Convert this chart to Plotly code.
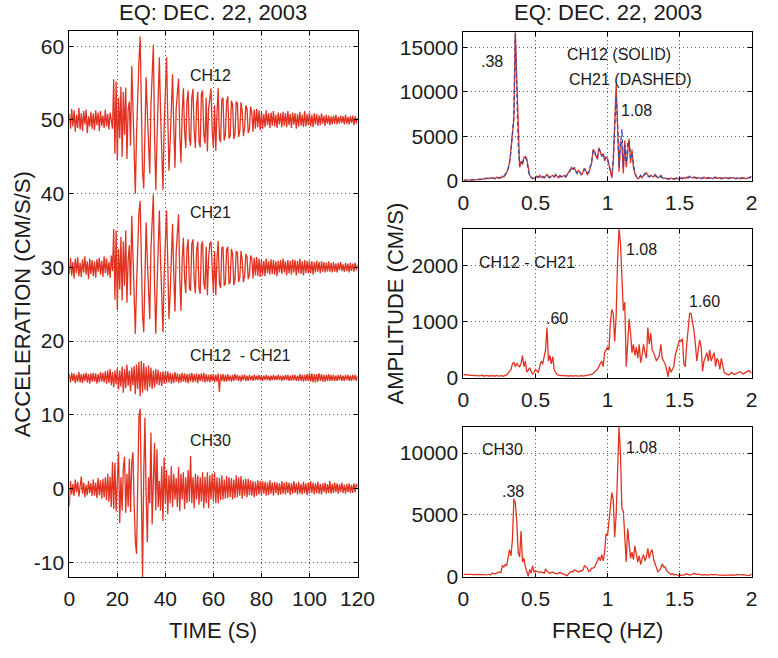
import numpy as np
import plotly.graph_objects as go

# ---------------- time series (deviation from offset, CM/S/S), dt = 0.5 s ----------------
DT = 0.5
ch12 = [0.8,-1.2,1.5,-0.9,1.3,-1.6,0.7,-1.1,1.6,-1.3,0.9,-1.5,1.2,-0.6,1.4,-1.8,0.5,-0.9,1.1,-1.2,
        0.9,-1.4,1.3,-0.7,1.0,-1.5,1.2,-0.8,0.6,-1.1,1.4,-0.9,0.8,-1.3,1.0,-0.6,-1.2,5.5,-4.6,5.2,
        -5.5,3.0,-2.5,4.5,-5.0,3.8,-2.0,4.4,-5.3,1.5,2.5,-3.5,7.3,2.0,-6.5,-10.0,-2.0,5.0,8.0,11.3,
        1.0,-7.0,-9.3,-1.0,5.8,1.0,-5.0,-7.3,2.0,6.5,10.2,-2.0,-9.5,-3.0,4.0,8.5,1.0,-5.0,-9.5,-1.0,
        5.0,8.5,0.5,-6.9,-3.0,2.0,6.2,-1.0,-6.5,1.5,3.5,5.6,-2.0,-5.8,1.0,4.3,-1.5,-3.8,2.5,4.0,
        -2.5,-3.5,3.0,4.2,-1.5,-3.8,2.0,3.8,-3.0,-3.7,3.5,4.0,-2.0,-3.2,3.0,-4.3,1.5,3.5,4.3,-1.5,
        -3.8,2.0,-4.2,1.0,4.3,-2.5,-3.0,2.8,3.0,-2.8,-2.0,2.5,3.2,-2.5,-2.2,2.6,2.0,-2.6,-1.8,2.5,
        2.2,-2.3,-1.5,2.4,1.2,-2.2,-1.0,2.0,1.5,-1.8,-1.2,1.8,1.0,-1.6,1.4,-1.2,1.5,-1.0,1.3,-1.4,
        1.1,-1.2,0.8,-1.0,1.3,-0.7,0.9,-1.1,1.0,-0.8,1.2,-0.9,0.7,-1.1,1.0,-0.6,0.9,-1.0,1.1,-0.8,
        0.9,-1.0,1.2,-0.7,0.8,-1.1,1.0,-0.6,0.9,-1.2,0.8,-0.9,1.1,-0.8,0.7,-1.0,1.2,-0.9,0.8,-0.7,
        1.0,-0.9,0.7,-1.0,0.9,-0.6,0.8,-0.8,0.6,-0.7,0.9,-0.5,0.6,-0.8,0.7,-0.5,0.6,-0.7,0.5,-0.6,
        0.6,-0.5,0.7,-0.6,0.4,-0.5,0.6,-0.4,0.5,-0.6,0.7,-0.5,0.4,-0.6,0.5,-0.4,0.6,-0.7,0.5,-0.5,0.3]

ch21 = [-0.9,1.3,-1.1,0.7,-1.5,1.2,-0.8,1.4,-1.2,0.6,-1.3,1.1,-0.7,1.5,-1.0,0.8,-1.6,1.2,-0.9,1.0,
        -1.2,0.8,-1.4,1.1,-0.6,1.3,-1.0,0.9,-1.3,1.5,-0.8,1.2,-1.1,0.7,-1.4,1.6,-0.5,5.2,-4.4,5.0,
        -5.8,2.5,-3.0,4.1,-4.5,3.5,-2.5,5.0,-4.8,1.0,3.0,-3.8,7.0,1.5,-6.0,-9.0,-2.5,4.5,7.5,9.0,
        0.5,-6.5,-8.8,-1.5,6.1,1.0,-4.5,-7.0,2.5,7.0,9.9,-2.5,-9.0,-3.0,3.5,7.7,1.0,-5.0,-8.8,-1.0,
        5.0,7.7,0.5,-7.0,-3.5,2.0,5.9,-1.0,-6.0,2.0,4.0,7.2,-1.5,-5.9,1.0,4.0,-1.5,-3.5,2.5,3.8,
        -2.8,-3.2,3.2,3.8,-1.8,-3.5,2.2,3.5,-2.8,-3.6,3.0,3.5,-2.2,-3.0,2.8,-3.8,1.2,3.2,3.5,-1.2,
        -3.5,2.2,-3.8,1.2,3.6,-2.2,-2.8,2.6,2.8,-2.5,-2.2,2.4,2.8,-2.3,-2.0,2.5,1.8,-2.4,-1.6,2.2,
        2.0,-2.0,-1.4,2.2,1.0,-2.0,-1.2,1.8,1.4,-1.6,-1.0,1.6,1.2,-1.5,1.3,-1.1,1.4,-1.2,1.2,-1.3,
        1.0,-1.1,0.9,-1.2,1.2,-0.8,0.8,-1.0,1.1,-0.9,1.0,-1.0,0.8,-1.2,0.9,-0.7,1.0,-0.9,1.2,-0.7,
        0.8,-1.1,1.0,-0.8,0.9,-1.0,1.1,-0.7,1.0,-1.1,0.9,-0.8,1.2,-0.9,0.8,-1.1,1.0,-0.8,0.9,-0.8,
        0.9,-0.8,0.8,-1.0,0.7,-0.7,0.9,-0.6,0.7,-0.8,0.8,-0.6,0.7,-0.7,0.6,-0.6,0.8,-0.6,0.6,-0.7,
        0.7,-0.6,0.5,-0.7,0.6,-0.4,0.7,-0.5,0.4,-0.6,0.6,-0.5,0.5,-0.7,0.6,-0.5,0.5,-0.6,0.6,-0.4,0.4]

diff = [0.5,-0.6,0.7,-0.4,0.6,-0.7,0.4,-0.5,0.8,-0.6,0.5,-0.7,0.6,-0.4,0.7,-0.6,0.5,-0.8,0.6,-0.5,
        0.7,-0.5,0.6,-0.8,0.5,-0.6,0.8,-0.5,0.7,-0.6,0.9,-0.8,1.0,-0.7,1.2,-1.0,0.8,-1.3,1.0,-0.9,
        1.3,-1.6,1.0,-1.2,1.5,-2.0,1.2,-1.4,1.8,-1.1,1.0,-1.8,1.4,-1.0,1.6,-2.2,1.8,-1.5,2.2,-2.5,
        2.3,-2.0,2.0,-1.6,1.5,-1.8,1.7,-1.2,1.4,-1.5,1.0,-1.3,1.2,-0.9,1.1,-1.0,0.8,-1.1,0.9,-0.8,
        0.8,-0.7,0.9,-0.6,0.7,-0.8,0.6,-0.7,0.8,-0.5,0.6,-0.7,0.5,-0.6,0.7,-0.5,0.6,-0.6,0.5,-0.7,
        0.6,-0.5,0.7,-0.6,0.5,-0.5,0.6,-0.7,0.5,-0.4,0.6,-0.5,0.7,-0.6,0.5,-0.5,0.4,-0.6,0.5,-0.4,
        0.5,-0.6,0.4,-0.5,0.6,-1.9,0.5,-0.4,0.5,-0.5,0.4,-0.5,0.5,-0.4,0.3,-0.5,0.4,-0.4,0.5,-0.3,
        0.4,-0.4,0.3,-0.5,0.4,-0.3,0.4,-0.4,0.3,-0.4,0.4,-0.3,0.3,-0.4,0.4,-0.3,0.3,-0.3,0.4,-0.3,
        0.3,-0.4,0.3,-0.3,0.4,-0.3,0.3,-0.4,0.3,-0.3,0.4,-0.3,0.3,-0.3,0.4,-0.3,0.3,-0.4,0.3,-0.3,
        0.4,-0.3,0.4,-0.4,0.3,-0.4,0.4,-0.3,0.4,-0.4,0.3,-0.4,0.5,-0.4,0.4,-0.5,0.4,-0.4,0.5,-0.4,
        0.6,-0.5,0.6,-0.6,0.5,-0.6,0.5,-0.5,0.6,-0.4,0.5,-0.5,0.4,-0.5,0.4,-0.4,0.5,-0.4,0.4,-0.4,
        0.4,-0.4,0.3,-0.4,0.4,-0.3,0.4,-0.4,0.3,-0.4,0.4,-0.3,0.4,-0.4,0.3,-0.4,0.4,-0.3,0.4,-0.4,0.3]

ch30 = [-2.4,1.0,-0.8,0.6,-1.0,1.2,-0.5,0.9,-1.1,0.4,1.6,-0.7,0.8,-1.2,0.5,-0.9,1.0,-0.6,0.7,-1.0,
        1.2,-1.0,0.8,-1.3,1.4,-0.9,1.1,-1.4,1.3,-1.2,1.5,-1.6,2.0,-1.8,1.6,-2.5,3.6,-2.8,3.5,-3.1,
        2.5,4.9,-4.7,1.5,-3.0,2.8,4.3,-3.3,2.0,-2.5,4.0,-3.2,3.5,4.9,-2.0,-7.1,-8.9,3.0,9.8,10.8,
        -3.0,-12.0,2.0,9.6,-1.0,-7.3,1.5,-2.0,7.6,-4.9,1.0,6.2,-3.0,5.3,-2.5,1.0,-3.0,3.0,-4.4,4.2,
        -2.0,2.5,-3.5,1.8,-2.0,3.0,-2.5,2.0,-1.5,1.4,-2.5,2.9,-3.1,2.0,-1.5,2.2,-2.8,1.5,-2.0,2.5,
        -1.8,4.4,-2.0,1.5,-2.7,2.0,-1.5,1.8,-2.2,1.5,-1.8,2.2,-2.7,1.6,-2.0,2.2,-2.7,1.8,-1.5,2.0,
        -1.8,2.2,-2.0,1.5,-2.0,1.4,-1.6,1.8,-1.5,1.2,-1.4,1.7,-1.3,1.5,-1.2,1.4,-1.5,1.2,-1.3,1.8,
        -1.2,1.5,-1.0,1.7,-1.4,1.2,-1.0,1.3,-1.2,1.3,-0.9,1.1,-1.0,1.0,-1.2,0.9,-1.0,1.1,-0.8,1.0,
        -0.9,1.0,-0.7,0.9,-1.0,0.8,-0.9,1.1,-0.7,0.8,-1.0,0.9,-0.6,0.8,-0.9,0.7,-0.8,1.0,-0.7,0.8,
        -0.8,0.9,-0.6,0.8,-0.9,0.7,-0.7,1.0,-0.6,0.7,-0.8,0.9,-0.7,0.6,-0.8,0.9,-0.6,0.7,-0.9,0.8,
        -0.7,1.0,-0.6,0.8,-0.8,0.7,-0.6,0.9,-0.7,0.6,-0.8,0.7,-0.5,0.8,-0.7,0.6,-0.6,1.0,-0.7,0.6,
        -0.6,0.8,-0.5,0.7,-0.7,0.6,-0.5,0.8,-0.6,0.5,-0.7,0.6,-0.5,0.7,-0.6,0.5,-0.6,0.7,-0.5,0.6,0.2]

offsets = [50, 30, 15, 0]
series_labels = ["CH12", "CH21", "CH12\u00a0 - CH21", "CH30"]

# ---------------- Fourier amplitude spectra (CM/S), df = 0.01 Hz ----------------
DF = 0.01
spec_ch12 = [20,20,30,20,30,40,30,50,60,80,
             100,150,120,200,180,250,200,300,220,350,
             250,300,200,400,280,350,300,500,400,700,
             900,1300,2000,3500,5500,7000,16700,11000,4500,1500,
             2200,1800,2600,2700,2400,1200,600,400,200,250,
             300,500,400,600,350,450,300,500,700,400,
             300,500,600,400,700,500,300,600,400,500,
             600,400,700,900,1200,1500,1300,1400,1100,900,
             1200,800,600,1000,1400,1100,700,900,1500,2000,
             3500,3300,2800,2400,3700,3200,2800,3000,2200,2600,
             2500,1800,1200,300,2000,6000,10800,6000,1000,4500,
             4000,800,4500,1500,3500,4700,2000,3500,1500,800,
             500,200,300,500,300,600,700,900,600,400,
             600,500,400,700,500,300,400,600,300,250,
             300,200,250,150,300,200,150,250,300,200,
             250,300,200,350,250,400,300,500,350,300,
             400,300,250,350,300,200,300,400,250,300,
             350,250,300,200,300,400,250,300,350,200,
             300,250,350,300,200,300,250,350,300,200,
             250,300,200,350,250,300,200,300,350,400,
             500]

spec_ch21 = [20,30,20,30,40,30,40,50,70,90,
             120,130,150,180,220,200,260,250,300,300,
             280,250,250,350,300,320,350,450,450,650,
             950,1350,2100,3300,5300,7200,16500,10500,4200,1600,
             2000,2000,2500,2600,2300,1100,500,350,250,300,
             400,450,350,550,400,500,350,450,600,500,
             350,450,550,450,600,450,350,550,450,550,
             550,450,650,850,1100,1400,1200,1500,1000,800,
             1100,900,700,900,1300,1000,800,1000,1600,2100,
             3300,3400,2600,2500,3500,3300,2700,3100,2300,2700,
             2400,1700,1300,500,2500,5500,9500,6500,1500,4000,
             5800,1500,4000,2000,4200,4500,2500,3000,1800,900,
             400,300,400,600,350,500,800,700,500,450,
             550,450,500,600,450,350,350,500,350,300,
             250,250,200,200,250,250,200,200,250,250,
             300,250,250,300,300,350,350,450,400,350,
             350,350,300,300,350,250,250,350,300,250,
             300,300,250,250,350,350,300,250,300,250,
             250,300,300,250,250,350,300,300,250,250,
             300,250,250,300,300,250,250,250,300,350,
             400]

spec_diff = [60,55,50,55,50,45,50,40,45,40,
             45,35,40,50,30,40,35,45,30,40,
             35,40,30,45,35,30,40,35,30,50,
             50,80,120,150,250,280,200,260,220,200,
             250,400,200,300,100,150,180,120,60,100,
             150,120,100,200,300,250,400,500,900,300,
             400,250,380,150,100,60,50,40,45,40,
             40,35,40,30,40,35,30,40,35,30,
             30,35,40,30,35,40,45,40,50,60,
             80,100,120,150,200,250,300,200,450,500,
             550,500,1000,1220,1150,650,1100,2100,2660,2400,
             1600,1200,1350,200,600,1050,800,450,600,400,
             550,350,600,270,400,600,450,350,900,600,
             800,500,450,350,300,350,400,600,350,300,
             250,150,20,200,100,150,200,400,500,600,
             680,650,700,250,200,600,900,1150,1150,1000,
             850,600,300,500,680,550,120,300,400,450,
             300,500,300,400,450,200,350,300,150,350,
             200,100,80,60,50,70,100,80,60,70,
             80,100,110,90,70,80,100,120,130,110,
             80]

spec_ch30 = [200,210,200,190,210,200,190,200,210,200,
             190,200,180,200,190,170,200,180,190,170,
             300,280,250,300,350,400,350,900,800,1000,
             900,1500,2200,1700,3000,6300,6000,4500,2000,1600,
             3700,1200,1500,800,400,50,600,300,900,400,
             500,450,400,350,400,350,300,600,450,350,
             300,350,400,300,250,250,300,350,300,250,
             200,150,100,250,350,450,400,550,500,450,
             400,500,450,550,900,800,700,450,500,700,
             700,800,1000,1300,1600,1300,1800,1300,2000,3500,
             3300,4500,6200,6800,6200,3200,5000,9000,12100,10000,
             5500,5300,3000,1200,3900,2500,1500,2000,1400,2500,
             1800,1200,1700,1000,1500,1800,1300,1600,2300,1500,
             2000,2200,1400,1000,600,400,500,700,1050,800,
             800,500,400,300,200,250,150,200,150,100,
             100,150,120,150,200,250,200,150,180,200,
             300,250,200,220,180,200,150,180,200,170,
             150,180,200,160,190,200,170,150,180,160,
             100,130,150,170,140,150,160,180,150,140,
             200,180,160,170,190,150,140,120,100,130,
             250]

time_ticks = [0, 20, 40, 60, 80, 100, 120]
acc_ticks = [-10, 0, 10, 20, 30, 40, 50, 60]
acc_ticktext = ["-10", "0", "10", "20", "30", "40", "50", "60"]
freq_ticks = [0, 0.5, 1, 1.5, 2]
freq_ticktext = ["0", "0.5", "1", "1.5", "2"]
amp_ticks_top = [0, 5000, 10000, 15000]
amp_ticks_mid = [0, 1000, 2000]
amp_ticks_bot = [0, 5000, 10000]

# ---------------- figure ----------------
W, H = 778, 658
RED = "rgb(226,50,34)"
BLUE = "rgb(58,72,170)"
FONT = "Liberation Sans, Arial, Helvetica, sans-serif"
TXT = "#1a1a1a"

def px_x(p):
    return p / W

def px_y(p):
    return 1 - p / H

t = np.arange(len(ch12)) * DT
f = np.arange(len(spec_ch12)) * DF

fig = go.Figure()
for vals, off in zip([ch12, ch21, diff, ch30], offsets):
    fig.add_trace(go.Scatter(x=t, y=np.array(vals) + off, mode="lines",
                             line=dict(color=RED, width=1.3), xaxis="x", yaxis="y",
                             showlegend=False, hoverinfo="skip"))

fig.add_trace(go.Scatter(x=f, y=spec_ch12, mode="lines", line=dict(color=RED, width=1.3),
                         xaxis="x2", yaxis="y2", showlegend=False))
fig.add_trace(go.Scatter(x=f, y=spec_ch21, mode="lines",
                         line=dict(color=BLUE, width=1.3, dash="4px,3px"),
                         xaxis="x2", yaxis="y2", showlegend=False))
fig.add_trace(go.Scatter(x=f, y=spec_diff, mode="lines", line=dict(color=RED, width=1.3),
                         xaxis="x3", yaxis="y3", showlegend=False))
fig.add_trace(go.Scatter(x=f, y=spec_ch30, mode="lines", line=dict(color=RED, width=1.3),
                         xaxis="x4", yaxis="y4", showlegend=False))

axis_common = dict(showline=True, linecolor="black", linewidth=1, mirror="allticks",
                   ticks="inside", ticklen=4, tickcolor="black", showgrid=True,
                   gridcolor="#555", gridwidth=1, griddash="1px,3px", zeroline=False,
                   tickfont=dict(family=FONT, size=21, color=TXT))
x_common = dict(ticklabelstandoff=3, **axis_common)

LX = [px_x(65.3), px_x(362.7)]
RX = [px_x(472), px_x(769.3)]
fig.update_layout(
    width=W, height=H, margin=dict(l=0, r=0, t=0, b=0),
    paper_bgcolor="white", plot_bgcolor="white", showlegend=False,
    xaxis=dict(domain=LX, range=[0, 120], tickvals=time_ticks, anchor="y", **x_common),
    yaxis=dict(domain=[px_y(586.7), px_y(32)], range=[-12, 62], tickvals=acc_ticks,
               ticktext=acc_ticktext, anchor="x", **axis_common),
    xaxis2=dict(domain=RX, range=[0, 2], tickvals=freq_ticks, ticktext=freq_ticktext,
                anchor="y2", **x_common),
    yaxis2=dict(domain=[px_y(183.7), px_y(32.3)], range=[0, 16750], tickvals=amp_ticks_top,
                ticktext=[str(v) for v in amp_ticks_top], anchor="x2", **axis_common),
    xaxis3=dict(domain=RX, range=[0, 2], tickvals=freq_ticks, ticktext=freq_ticktext,
                anchor="y3", **x_common),
    yaxis3=dict(domain=[px_y(384.3), px_y(232.7)], range=[0, 2660], tickvals=amp_ticks_mid,
                ticktext=[str(v) for v in amp_ticks_mid], anchor="x3", **axis_common),
    xaxis4=dict(domain=RX, range=[0, 2], tickvals=freq_ticks, ticktext=freq_ticktext,
                anchor="y4", **x_common),
    yaxis4=dict(domain=[px_y(586.7), px_y(434.3)], range=[0, 12100], tickvals=amp_ticks_bot,
                ticktext=[str(v) for v in amp_ticks_bot], anchor="x4", **axis_common),
)

ann = []
def paper_text(text, x, y, size=22, angle=0):
    ann.append(dict(text=text, x=px_x(x), y=px_y(y), xref="paper", yref="paper",
                    showarrow=False, xanchor="center", yanchor="middle", textangle=angle,
                    font=dict(family=FONT, size=size, color=TXT)))

def data_text(text, x, y, xr, yr, size=16):
    ann.append(dict(text=text, x=x, y=y, xref=xr, yref=yr, showarrow=False,
                    xanchor="left", yanchor="middle", xshift=-2,
                    font=dict(family=FONT, size=size, color=TXT)))

paper_text("EQ: DEC. 22, 2003", 214, 13)
paper_text("EQ: DEC. 22, 2003", 620.7, 13)
paper_text("TIME (S)", 214, 641)
paper_text("FREQ (HZ)", 620.7, 641)
paper_text("ACCELERATION (CM/S/S)", 17, 309, angle=-90)
paper_text("AMPLITUDE (CM/S)", 402, 309, angle=-90)

label_y = [56.0, 37.5, 18.0, 6.5]
for lab, ly in zip(series_labels, label_y):
    data_text(lab, 50.3, ly, "x", "y")

data_text(".38", 0.12, 13400, "x2", "y2")
data_text("CH12 (SOLID)", 0.72, 14170, "x2", "y2")
data_text("CH21 (DASHED)", 0.73, 11350, "x2", "y2")
data_text("1.08", 1.097, 7910, "x2", "y2")
data_text("CH12 - CH21", 0.11, 2063, "x3", "y3")
data_text(".60", 0.57, 1065, "x3", "y3")
data_text("1.08", 1.13, 2285, "x3", "y3")
data_text("1.60", 1.563, 1371, "x3", "y3")
data_text("CH30", 0.132, 10250, "x4", "y4")
data_text(".38", 0.271, 6880, "x4", "y4")
data_text("1.08", 1.13, 10480, "x4", "y4")

fig.update_layout(annotations=ann)
fig.write_html("out.html")
